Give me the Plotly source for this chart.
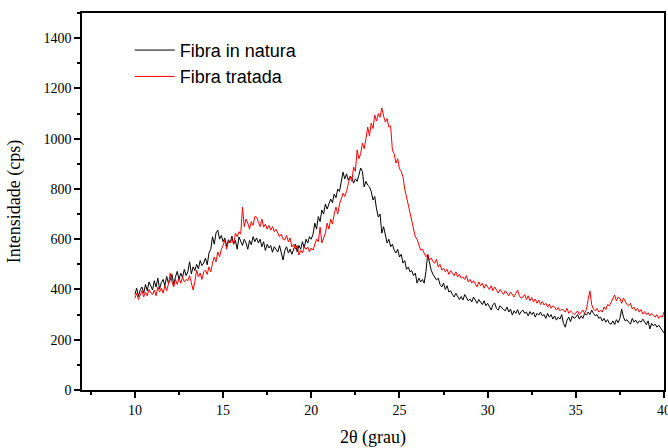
import numpy as np
import plotly.graph_objects as go

# 2θ sampling grid (degrees)
theta_start = 10.0
theta_step = 0.1

fibra_in_natura = [
    380, 405, 372, 398, 410, 385, 420, 395, 430, 412,
    398, 435, 410, 445, 402, 428, 440, 415, 452, 425,
    438, 460, 420, 450, 472, 440, 465, 448, 480, 455,
    470, 510, 462, 490, 475, 500, 482, 515, 495, 505,
    525, 498, 545, 560, 610, 580, 625, 636, 600, 615,
    590, 605, 570, 598, 585, 612, 580, 595, 560, 609,
    590, 575, 600, 585, 560, 595, 578, 610, 590, 605,
    585, 600, 570, 590, 555, 580, 565, 575, 548, 570,
    560, 549, 575, 540, 517, 555, 570, 545, 560, 540,
    565, 580, 550, 575, 560, 590, 565, 600, 585, 610,
    600, 620, 664, 640, 690, 670, 716, 700, 740, 720,
    740, 760, 745, 780, 765, 800, 790, 830, 867, 840,
    860, 835, 850, 845, 823, 840, 830, 855, 883, 870,
    808, 830, 815, 808, 790, 756, 770, 720, 688, 700,
    624, 650, 610, 585, 600, 570, 580, 557, 545, 560,
    529, 540, 505, 515, 480, 489, 470, 475, 455, 465,
    425, 445, 430, 440, 425, 470, 540, 500, 477, 460,
    450, 438, 445, 420, 410, 425, 400, 415, 390, 395,
    380, 370, 385, 375, 360, 372, 358, 380, 365, 355,
    362, 350, 370, 358, 345, 360, 350, 340, 355, 335,
    345, 330, 318, 340, 346, 325, 318, 335, 326, 320,
    315, 330, 310, 322, 298, 315, 305, 320, 300, 312,
    318, 305, 310, 295, 312, 300, 310, 290, 305, 298,
    310, 295, 300, 285, 305, 290, 300, 282, 295, 278,
    290, 282, 300, 265, 250, 278, 290, 272, 295, 285,
    290, 300, 282, 295, 285, 305, 298, 310, 300, 318,
    305, 295, 300, 285, 290, 274, 285, 270, 280, 265,
    262, 275, 260, 280, 268, 285, 322, 290, 275, 280,
    270, 262, 285, 270, 278, 265, 275, 270, 282, 268,
    260, 275, 243, 265, 255, 262, 250, 258, 247, 240,
    227,
]

fibra_tratada = [
    365, 385, 360, 378, 395, 370, 390, 375, 400, 386,
    380, 398, 375, 410, 390, 405, 385, 415, 395, 420,
    465, 430, 410, 440, 420, 445, 425, 450, 430, 440,
    435, 455, 420, 398, 430, 477, 450, 465, 440, 470,
    477, 460, 490, 470, 505, 529, 510, 549, 530, 560,
    575, 597, 560, 590, 585, 600, 580, 624, 610, 630,
    620, 728, 650, 680, 664, 640, 670, 655, 690, 688,
    670, 650, 680, 648, 660, 640, 655, 636, 650, 630,
    640, 624, 610, 620, 600, 597, 615, 590, 605, 569,
    580, 560, 575, 537, 555, 545, 570, 560, 569, 550,
    565, 557, 580, 600, 590, 648, 585, 610, 625, 664,
    640, 680, 660, 700, 728, 700, 740, 760, 783, 770,
    790, 820, 848, 830, 887, 870, 955, 920, 940, 982,
    960, 1000, 1046, 1010, 1062, 1040, 1094, 1070, 1100, 1085,
    1122, 1090, 1066, 1080, 1046, 1050, 955, 940, 903, 920,
    880, 870, 848, 800, 768, 740, 704, 676, 640, 609,
    600, 580, 557, 560, 545, 530, 540, 517, 525, 510,
    505, 520, 490, 500, 477, 485, 470, 480, 460, 475,
    465, 455, 470, 450, 460, 445, 450, 440, 455, 430,
    440, 425, 435, 420, 410, 430, 415, 425, 405, 420,
    410, 400, 415, 395, 410, 398, 386, 400, 390, 380,
    395, 385, 375, 390, 380, 370, 385, 398, 375, 365,
    370, 380, 360, 375, 355, 368, 350, 362, 345, 358,
    340, 352, 338, 345, 330, 342, 325, 335, 330, 318,
    328, 315, 322, 318, 310, 325, 305, 315, 308, 300,
    306, 315, 300, 310, 318, 305, 320, 360, 394, 340,
    322, 315, 325, 310, 318, 310, 330, 320, 340, 335,
    350, 360, 378, 355, 370, 365, 345, 366, 350, 340,
    335, 345, 322, 330, 315, 325, 310, 320, 302, 312,
    300, 308, 295, 305, 298, 290, 300, 285, 295, 290,
    310,
]

series_names = ["Fibra in natura", "Fibra tratada"]
series_colors = ["#000000", "#ff0000"]

x_tickvals = [10, 15, 20, 25, 30, 35, 40]
y_tickvals = [0, 200, 400, 600, 800, 1000, 1200, 1400]

theta = np.round(theta_start + theta_step * np.arange(len(fibra_in_natura)), 2)

fig = go.Figure()
for name, vals, col in zip(series_names, [fibra_in_natura, fibra_tratada], series_colors):
    fig.add_trace(go.Scatter(x=theta, y=vals, mode="lines", name=name,
                             line=dict(color=col, width=1)))

serif = "Liberation Serif, Times New Roman, serif"
axis_common = dict(showline=True, linecolor="black", linewidth=1.5, mirror=True,
                   ticks="outside", ticklen=6, tickwidth=1.5, tickcolor="black",
                   showgrid=False, zeroline=False, automargin=False,
                   ticklabeloverflow="allow",
                   tickfont=dict(family=serif, size=14, color="black"))

fig.update_xaxes(range=[7, 40], tickvals=x_tickvals,
                 minor=dict(ticks="outside", ticklen=3, tickwidth=1.5, dtick=2.5, tick0=0,
                            tickcolor="black"),
                 title=dict(text="2θ (grau)", font=dict(family=serif, size=18, color="black"),
                            standoff=14),
                 **axis_common)
fig.update_yaxes(range=[0, 1500], tickvals=y_tickvals,
                 minor=dict(ticks="outside", ticklen=3, tickwidth=1.5, dtick=100,
                            tickcolor="black"),
                 title=dict(text="Intensidade (cps)", font=dict(family=serif, size=18, color="black"),
                            standoff=18),
                 **axis_common)

fig.update_layout(
    width=668, height=448,
    margin=dict(l=82, r=4, t=13, b=58),
    paper_bgcolor="white", plot_bgcolor="white",
    showlegend=True,
    legend=dict(x=0.082, y=0.95, xanchor="left", yanchor="top",
                bgcolor="rgba(0,0,0,0)", tracegroupgap=0,
                font=dict(family="Liberation Sans, Arial, sans-serif", size=18, color="black"),
                itemwidth=40),
)

# remove the default 8px page margin so the 668x448 figure fills the window exactly
fig.write_html("out.html",
               config={"displayModeBar": False},
               post_script="document.body.style.margin='0';document.body.style.overflow='hidden';")
